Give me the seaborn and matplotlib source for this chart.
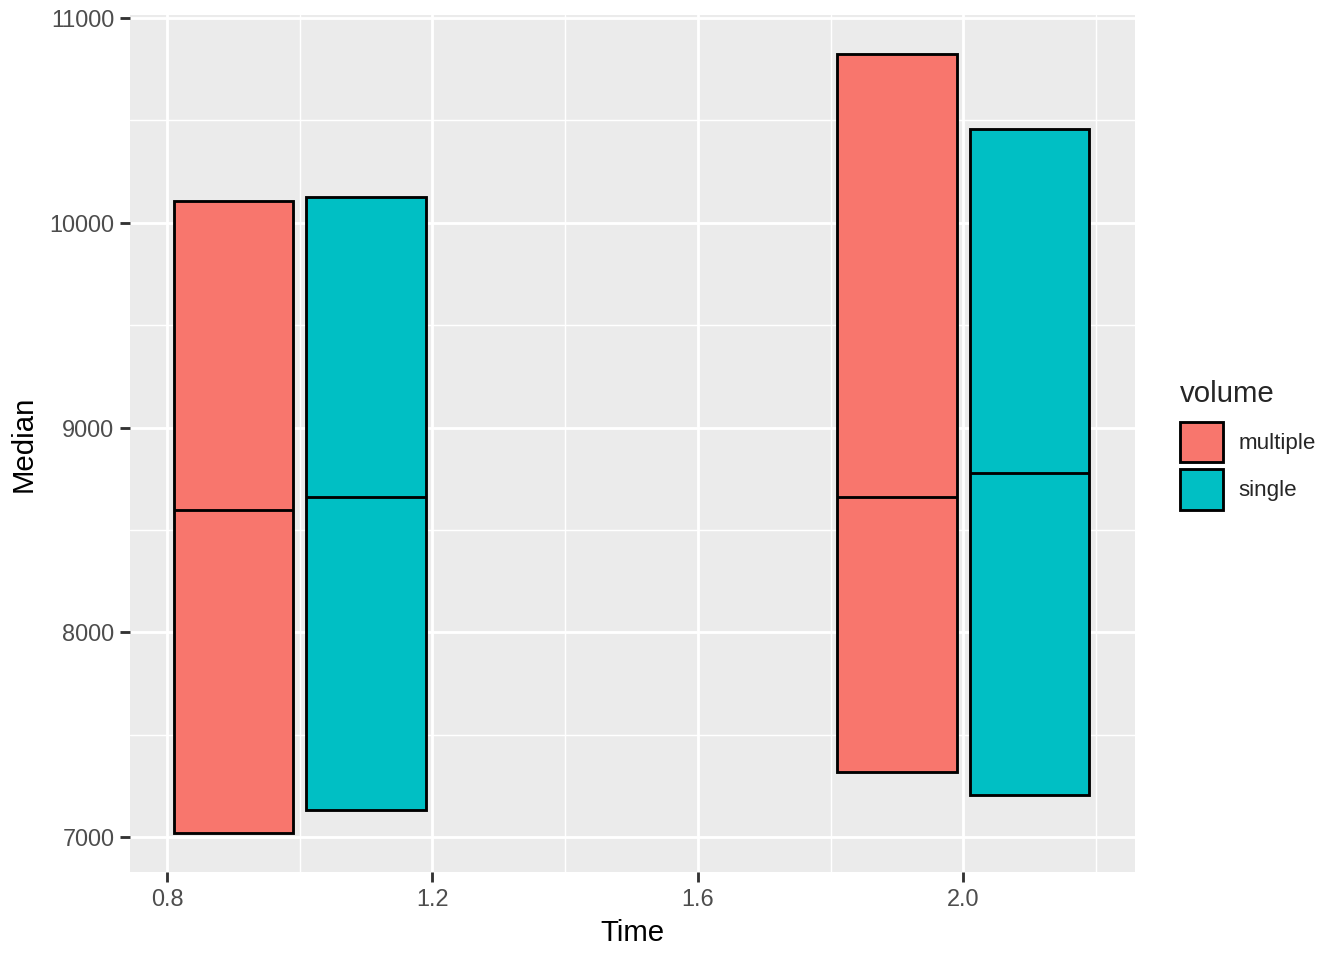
import pandas as pd
import numpy as np
import matplotlib.pyplot as plt
import seaborn as sns
from matplotlib.patches import Patch

# values (box bottom, median line, box top)
time = [1, 1, 2, 2]
volume = ["multiple", "single", "multiple", "single"]
low = [7020, 7132, 7317, 7205]
median = [8595, 8659, 8659, 8776]
high = [10107, 10127, 10824, 10459]

levels = ["multiple", "single"]
colors = {"multiple": "#F8766D", "single": "#00BFC4"}

x_ticks = [0.8, 1.2, 1.6, 2.0]
x_minor = [1.0, 1.4, 1.8, 2.2]
y_ticks = [7000, 8000, 9000, 10000, 11000]
y_minor = [7500, 8500, 9500, 10500]

# long table: repeating the edges makes the quartiles land on them (no whiskers)
rows = []
for t, v, lo, md, hi in zip(time, volume, low, median, high):
    for val in [lo, lo, md, hi, hi]:
        rows.append({"Time": t, "volume": v, "Median": val})
df = pd.DataFrame(rows)

sns.set_theme(style="darkgrid", rc={
    "axes.facecolor": "#EBEBEB",
    "grid.color": "white",
    "axes.edgecolor": "none",
})
plt.rcParams["font.family"] = ["Liberation Sans", "DejaVu Sans"]

fig = plt.figure(figsize=(7, 5), dpi=192)
ax = fig.add_axes([130 / 1344, 1 - 872 / 960, (1135 - 130) / 1344, (872 - 15) / 960])

lw = 1.07
sns.boxplot(data=df, x="Time", y="Median", hue="volume", hue_order=levels,
            native_scale=True, palette=colors, saturation=1,
            width=0.4, gap=0.1, linecolor="black", linewidth=lw,
            showcaps=False, showfliers=False, legend=False, ax=ax,
            medianprops={"color": "black", "linewidth": lw})

# ggplot-like expansion
ax.set_xlim(0.744, 2.259)
ymin, ymax = min(low), max(high)
pad = 0.05 * (ymax - ymin)
ax.set_ylim(ymin - pad, ymax + pad)

ax.set_xticks(x_ticks)
ax.set_xticklabels([f"{v:.1f}" for v in x_ticks])
ax.set_xticks(x_minor, minor=True)
ax.set_yticks(y_ticks)
ax.set_yticklabels([str(v) for v in y_ticks])
ax.set_yticks(y_minor, minor=True)

ax.grid(which="major", color="white", linewidth=lw)
ax.grid(which="minor", color="white", linewidth=lw / 2)
ax.set_axisbelow(True)
for s in ax.spines.values():
    s.set_visible(False)

ax.tick_params(which="major", length=3.7, width=lw, color="#333333",
               labelsize=8.8, labelcolor="#4D4D4D", pad=2.2,
               bottom=True, left=True)
ax.tick_params(which="minor", length=0)

ax.set_xlabel("Time", fontsize=11, color="black", labelpad=3)
ax.set_ylabel("Median", fontsize=11, color="black", labelpad=4.5)

handles = [Patch(facecolor=colors[v], edgecolor="black", linewidth=lw, label=v) for v in levels]
leg = fig.legend(handles=handles, title="volume", loc="center left",
                 bbox_to_anchor=(1180 / 1344, 1 - 445 / 960),
                 frameon=False, fontsize=8.4, title_fontsize=11,
                 handlelength=1.9, handleheight=2.42, labelspacing=0.3,
                 handletextpad=0.7, borderpad=0, borderaxespad=0,
                 alignment="left")
leg._legend_box.sep = 5

fig.savefig("out.png", dpi=192, facecolor="white")
